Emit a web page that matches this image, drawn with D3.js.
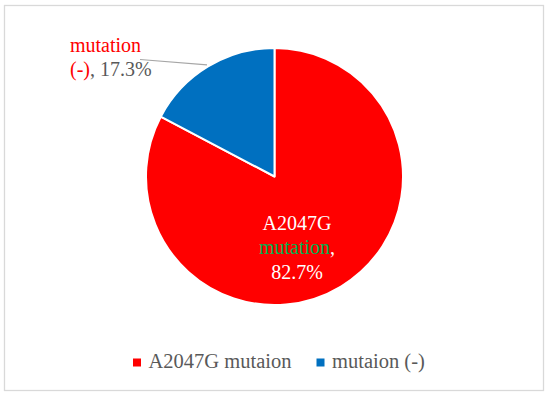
<!DOCTYPE html>
<html>
<head>
<meta charset="utf-8">
<script src="https://cdn.jsdelivr.net/npm/d3@7/dist/d3.min.js"></script>
<style>
  html, body { margin: 0; padding: 0; background: #fff; }
  svg { display: block; }
</style>
</head>
<body>
<svg id="chart" width="550" height="397"></svg>
<script>
// ---- data ----
const categories = ["A2047G mutaion", "mutaion (-)"];
const values = [82.7, 17.3];
const colors = ["#ff0000", "#0070c0"];
// data label parts: [text, colour] per line
const labelLines = [
  [[["A2047G", "#ffffff"]], [["mutation", "#00b050"], [",", "#ffffff"]], [["82.7%", "#ffffff"]]],
  [[["mutation", "#ff0000"]], [["(-)", "#ff0000"], [", 17.3%", "#595959"]]]
];

const FONT = "'Liberation Serif', 'DejaVu Serif', serif";
const W = 550, H = 397;
const svg = d3.select("#chart");

// chart border
svg.append("rect")
  .attr("x", 4.5).attr("y", 5.5)
  .attr("width", 539).attr("height", 385)
  .attr("fill", "#fff")
  .attr("stroke", "#d9d9d9")
  .attr("stroke-width", 1.3);

const cx = 274.5, cy = 176.5, R = 128.5;

const pie = d3.pie().sort(null).value(d => d)(values);
const arc = d3.arc().innerRadius(0).outerRadius(R);

const g = svg.append("g").attr("transform", `translate(${cx},${cy})`);

g.selectAll("path.slice")
  .data(pie)
  .join("path")
  .attr("class", "slice")
  .attr("d", arc)
  .attr("fill", (d, i) => colors[i])
  .attr("stroke", "#fff")
  .attr("stroke-width", 2)
  .attr("stroke-linejoin", "round");

// leader line for the small slice
const outerArc = d3.arc().innerRadius(R + 2).outerRadius(R + 2);
const p = outerArc.centroid(pie[1]);
const lineStart = [140 - cx, 59.5 - cy];
g.append("polyline")
  .attr("points", [lineStart, p].map(q => q.join(",")).join(" "))
  .attr("fill", "none")
  .attr("stroke", "#a6a6a6")
  .attr("stroke-width", 1.2);

function drawLabel(lines, x, y, anchor, lh) {
  const t = svg.append("text")
    .attr("x", x).attr("y", y)
    .attr("text-anchor", anchor)
    .attr("font-family", FONT)
    .attr("font-size", 20);
  lines.forEach((parts, li) => {
    parts.forEach((part, pi) => {
      const ts = t.append("tspan").text(part[0]).attr("fill", part[1]);
      if (pi === 0) ts.attr("x", x).attr("dy", li === 0 ? 0 : lh);
    });
  });
}

drawLabel(labelLines[0], 297, 229.5, "middle", 24.5);
drawLabel(labelLines[1], 70, 51.5, "start", 24.5);

// legend
const legendItems = [
  { x: 133, color: colors[0], label: categories[0] },
  { x: 316.5, color: colors[1], label: categories[1] }
];
const lg = svg.append("g");
legendItems.forEach(it => {
  lg.append("rect")
    .attr("x", it.x).attr("y", 358.5)
    .attr("width", 8).attr("height", 8)
    .attr("fill", it.color);
  lg.append("text")
    .attr("x", it.x + 15.5).attr("y", 367.5)
    .attr("font-family", FONT)
    .attr("font-size", 20.5)
    .attr("fill", "#595959")
    .text(it.label);
});
</script>
</body>
</html>
